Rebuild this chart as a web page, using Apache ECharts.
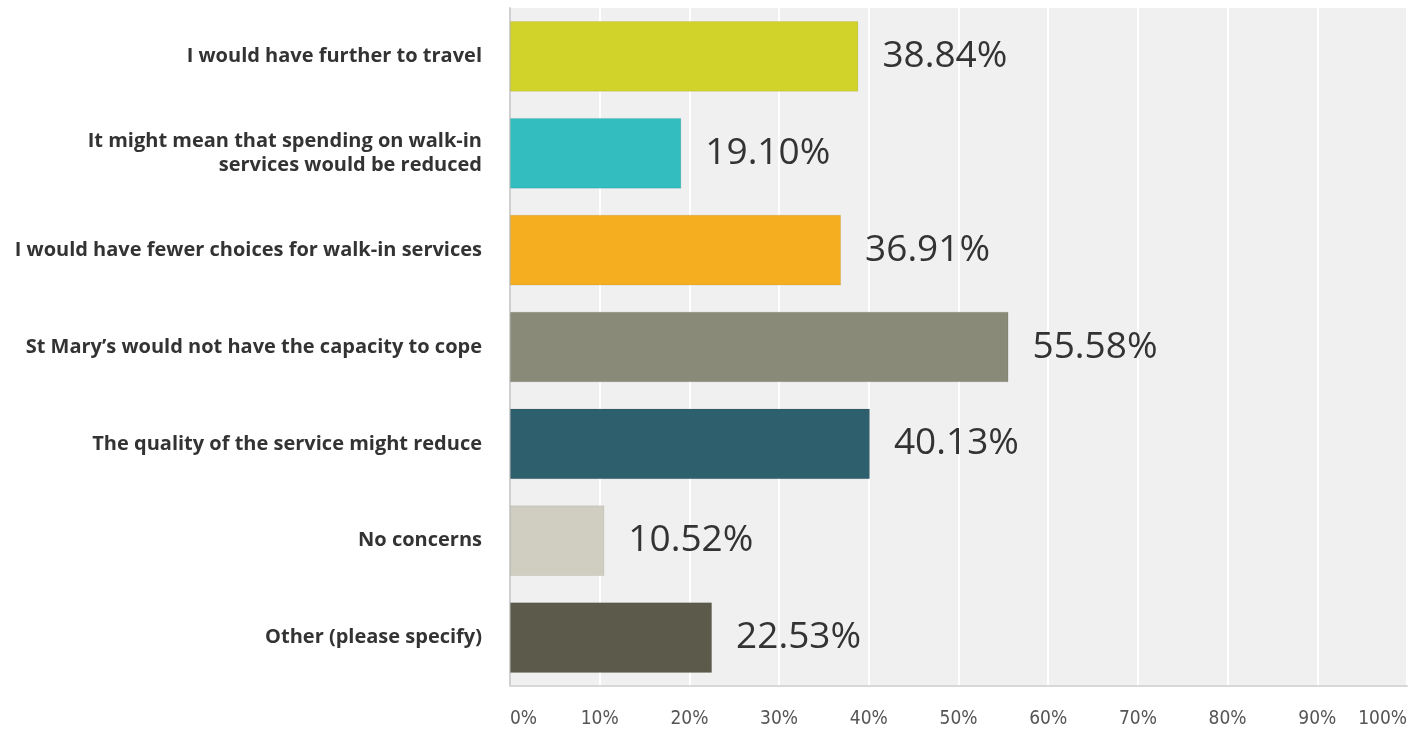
<!DOCTYPE html>
<html>
<head>
<meta charset="utf-8">
<script src="https://cdn.jsdelivr.net/npm/echarts@6/dist/echarts.min.js"></script>
<style>html,body{margin:0;padding:0;background:#fff;}#c{width:1410px;height:729px;}</style>
</head>
<body>
<div id="c"></div>
<script>
const categories = [
  "I would have further to travel",
  "It might mean that spending on walk-in\nservices would be reduced",
  "I would have fewer choices for walk-in services",
  "St Mary\u2019s would not have the capacity to cope",
  "The quality of the service might reduce",
  "No concerns",
  "Other (please specify)"
];
const values = [38.84, 19.10, 36.91, 55.58, 40.13, 10.52, 22.53];
const colors = ["#d1d32a", "#33bdbf", "#f5ae1f", "#8a8a78", "#2e5f6c", "#cfcec0", "#5c5a4b"];
const tickValues = [0, 10, 20, 30, 40, 50, 60, 70, 80, 90, 100];

const chart = echarts.init(document.getElementById('c'));
chart.setOption({
  animation: false,
  grid: { left: 510, right: 0, top: 8, bottom: 43, show: true, backgroundColor: '#f0f0f0', borderWidth: 0 },
  xAxis: {
    type: 'value', min: 0, max: 100, interval: 10,
    axisLine: { show: true, lineStyle: { color: '#d8d8d8', width: 2 } },
    axisTick: { show: false },
    splitLine: { show: true, lineStyle: { color: '#ffffff', width: 2 } },
    axisLabel: {
      formatter: v => tickValues.includes(v) ? v + '%' : '',
      color: '#555', fontSize: 19, margin: 24,
      fontFamily: '"DejaVu Sans Condensed", "Liberation Sans Narrow", sans-serif',
      alignMinLabel: 'left', alignMaxLabel: 'right'
    }
  },
  yAxis: {
    type: 'category', data: categories, inverse: true,
    axisLine: { show: true, lineStyle: { color: '#d0d0d0', width: 2 } },
    axisTick: { show: false },
    axisLabel: {
      color: '#333', fontSize: 20, fontWeight: 'bold', margin: 28,
      fontFamily: '"Open Sans", sans-serif', lineHeight: 24, align: 'right'
    }
  },
  series: [{
    type: 'bar',
    data: values.map((v, i) => ({ value: v, itemStyle: { color: colors[i] } })),
    barWidth: '73%',
    itemStyle: { borderColor: 'rgba(0,0,0,0.08)', borderWidth: 1 },
    label: {
      show: true, position: 'right', distance: 24,
      formatter: p => p.value.toFixed(2) + '%',
      color: '#333', fontSize: 37, fontFamily: '"Open Sans", sans-serif'
    }
  }]
});
</script>
</body>
</html>
